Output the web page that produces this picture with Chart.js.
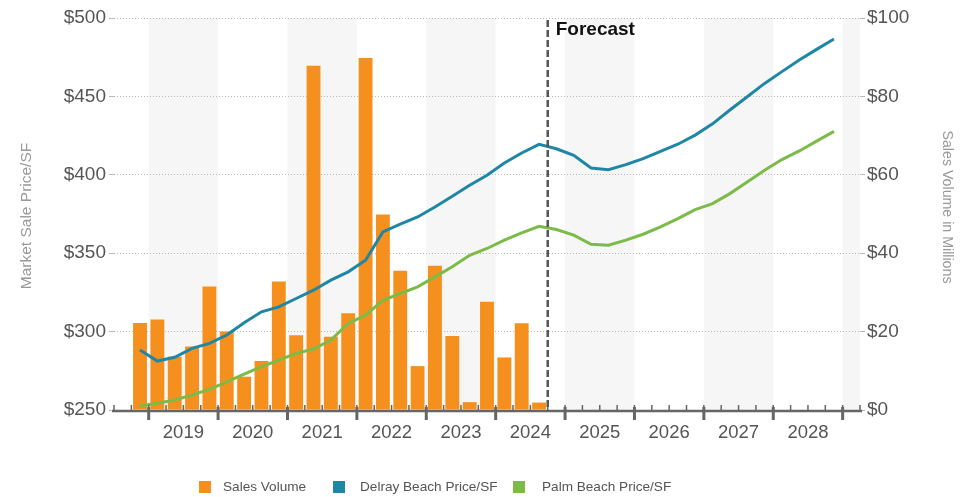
<!DOCTYPE html>
<html>
<head>
<meta charset="utf-8">
<script src="https://cdn.jsdelivr.net/npm/chart.js@4.4.0/dist/chart.umd.min.js"></script>
<style>
  html, body { margin: 0; padding: 0; background: #fff; }
</style>
</head>
<body>
<canvas id="salesChart" width="966" height="497"></canvas>
<script>
// --- DATA (quarterly, 2018 Q3 -> 2029 Q1) ---
const QUARTERS = [
  '2018 Q3', '2018 Q4',
  '2019 Q1', '2019 Q2', '2019 Q3', '2019 Q4',
  '2020 Q1', '2020 Q2', '2020 Q3', '2020 Q4',
  '2021 Q1', '2021 Q2', '2021 Q3', '2021 Q4',
  '2022 Q1', '2022 Q2', '2022 Q3', '2022 Q4',
  '2023 Q1', '2023 Q2', '2023 Q3', '2023 Q4',
  '2024 Q1', '2024 Q2', '2024 Q3', '2024 Q4',
  '2025 Q1', '2025 Q2', '2025 Q3', '2025 Q4',
  '2026 Q1', '2026 Q2', '2026 Q3', '2026 Q4',
  '2027 Q1', '2027 Q2', '2027 Q3', '2027 Q4',
  '2028 Q1', '2028 Q2', '2028 Q3', '2028 Q4',
  '2029 Q1'
];

const YEAR_LABELS = ['2019', '2020', '2021', '2022', '2023', '2024', '2025', '2026', '2027', '2028'];
const SHADED_YEARS = ['2019', '2021', '2023', '2025', '2027', '2029'];
const FORECAST_AFTER = '2024 Q3';

// sales volume, $ millions (2018 Q4 .. 2024 Q3)
const SALES_VOLUME = [
  null, 22.2,
  23.1, 13.6, 16.2, 31.5,
  20.0, 8.5, 12.5, 32.8,
  19.1, 87.8, 18.7, 24.7,
  89.8, 49.9, 35.5, 11.2,
  36.8, 18.9, 2.0, 27.6,
  13.4, 22.1, 1.9, null,
  null, null, null, null,
  null, null, null, null,
  null, null, null, null,
  null, null, null, null,
  null
];

// market sale price per SF
const DELRAY_PRICE = [
  null, 288.2,
  281.2, 283.6, 289.3, 292.5,
  297.8, 305.6, 312.6, 315.8,
  321.1, 326.4, 332.8, 338.1,
  345.5, 363.6, 368.5, 373.1,
  379.5, 386.3, 393.3, 399.7,
  407.5, 413.9, 419.4, 416.6,
  412.4, 404.3, 403.3, 406.5,
  410.3, 415.0, 419.5, 425.3,
  432.5, 441.3, 449.8, 458.3,
  465.8, 473.2, 480.0, 486.6,
  null
];

const PALM_PRICE = [
  null, 252.5,
  254.3, 256.4, 259.6, 263.2,
  268.0, 272.9, 277.6, 281.8,
  286.1, 288.9, 294.6, 305.2,
  310.5, 320.0, 324.3, 328.5,
  334.9, 341.3, 348.7, 353.0,
  358.3, 362.9, 367.2, 365.1,
  361.5, 355.7, 355.1, 358.3,
  362.1, 366.8, 372.1, 377.8,
  381.6, 388.0, 395.4, 402.9,
  409.7, 415.2, 421.5, 427.7,
  null
];

const THEME = {
  bar: '#f5901e', delray: '#1f87a5', palm: '#7cbb48',
  tick: '#555555', title: '#999999', grid: '#b8b8b8',
  axis: '#666666', band: '#f6f6f6', forecast: '#555555'
};

const FONT = "'Liberation Sans', Arial, sans-serif";

// --- HELPERS ---
function boundaryPx(x, i) {
  const w = x.getPixelForValue(1) - x.getPixelForValue(0);
  return x.getPixelForValue(0) - w / 2 + i * w;
}

// --- DECORATIONS (bands, x axis, forecast, titles, legend) ---
const decorPlugin = {
  id: 'decor',
  beforeDraw(chart) {
    const { ctx, chartArea: a, scales: { x } } = chart;
    ctx.save();
    ctx.fillStyle = THEME.band;
    SHADED_YEARS.forEach(y => {
      const start = QUARTERS.indexOf(y + ' Q1');
      const end = Math.min(start + 4, QUARTERS.length);
      const x0 = boundaryPx(x, start), x1 = boundaryPx(x, end);
      ctx.fillRect(x0, a.top, x1 - x0, a.bottom - a.top);
    });
    ctx.restore();
  },
  afterDraw(chart) {
    const { ctx, chartArea: a, scales: { x } } = chart;
    const base = a.bottom + 1;
    ctx.save();

    // minor ticks on every quarter
    ctx.strokeStyle = THEME.axis;
    ctx.lineWidth = 1.5;
    for (let i = 0; i <= QUARTERS.length; i++) {
      const px = boundaryPx(x, i);
      ctx.beginPath(); ctx.moveTo(px, base - 6); ctx.lineTo(px, base); ctx.stroke();
    }
    // axis line
    ctx.lineWidth = 2.5;
    ctx.beginPath(); ctx.moveTo(a.left - 2, base); ctx.lineTo(a.right + 2, base); ctx.stroke();

    // year ticks + labels
    ctx.font = '18.5px ' + FONT;
    ctx.fillStyle = THEME.tick;
    ctx.textAlign = 'center';
    ctx.textBaseline = 'middle';
    YEAR_LABELS.concat(['2029']).forEach((y, k) => {
      const i = QUARTERS.indexOf(y + ' Q1');
      const px = boundaryPx(x, i);
      ctx.lineWidth = 3;
      ctx.beginPath(); ctx.moveTo(px, base - 4); ctx.lineTo(px, base + 9); ctx.stroke();
      if (k < YEAR_LABELS.length) ctx.fillText(y, px + (boundaryPx(x, i + 4) - px) / 2, 433);
    });

    // forecast divider
    const fx = boundaryPx(x, QUARTERS.indexOf(FORECAST_AFTER) + 1);
    ctx.strokeStyle = THEME.forecast;
    ctx.lineWidth = 2.5;
    ctx.setLineDash([7, 3]);
    ctx.beginPath(); ctx.moveTo(fx, a.top + 2); ctx.lineTo(fx, base); ctx.stroke();
    ctx.setLineDash([]);
    ctx.fillStyle = '#111';
    ctx.font = 'bold 19px ' + FONT;
    ctx.textAlign = 'left';
    ctx.fillText('Forecast', fx + 8, 30);

    // axis titles
    ctx.fillStyle = THEME.title;
    ctx.textAlign = 'center';
    ctx.font = '15.5px ' + FONT;
    ctx.save();
    ctx.translate(27, 216); ctx.rotate(-Math.PI / 2);
    ctx.fillText('Market Sale Price/SF', 0, 0);
    ctx.restore();
    ctx.font = '14.2px ' + FONT;
    ctx.save();
    ctx.translate(947, 207); ctx.rotate(Math.PI / 2);
    ctx.fillText('Sales Volume in Millions', 0, 0);
    ctx.restore();

    // legend
    const boxX = [199, 333, 513], textX = [223, 360, 542];
    ctx.font = '13.6px ' + FONT;
    ctx.textAlign = 'left';
    chart.data.datasets.forEach((ds, i) => {
      ctx.fillStyle = ds.backgroundColor;
      ctx.fillRect(boxX[i], 481, 12, 12);
      ctx.fillStyle = THEME.tick;
      ctx.fillText(ds.label, textX[i], 487.5);
    });
    ctx.restore();
  }
};

// --- CHART ---
new Chart(document.getElementById('salesChart'), {
  type: 'bar',
  data: {
    labels: QUARTERS,
    datasets: [
      { type: 'bar', label: 'Sales Volume', data: SALES_VOLUME, yAxisID: 'yVol',
        backgroundColor: THEME.bar, barPercentage: 0.8, categoryPercentage: 1.0, order: 3 },
      { type: 'line', label: 'Delray Beach Price/SF', data: DELRAY_PRICE, yAxisID: 'yPrice',
        borderColor: THEME.delray, backgroundColor: THEME.delray, borderWidth: 3,
        pointRadius: 0, tension: 0, order: 1 },
      { type: 'line', label: 'Palm Beach Price/SF', data: PALM_PRICE, yAxisID: 'yPrice',
        borderColor: THEME.palm, backgroundColor: THEME.palm, borderWidth: 3,
        pointRadius: 0, tension: 0, order: 2 }
    ]
  },
  options: {
    responsive: false,
    animation: false,
    layout: { padding: { top: 18, bottom: 87, left: 0, right: 0 } },
    plugins: { legend: { display: false }, tooltip: { enabled: false } },
    scales: {
      x: { display: false, offset: true },
      yPrice: {
        position: 'left', min: 250, max: 500,
        afterFit: s => { s.width = 114; },
        ticks: { stepSize: 50, padding: 3, color: THEME.tick, font: { family: FONT, size: 19 },
                 callback: v => '$' + v },
        grid: { color: THEME.grid, lineWidth: 1, tickLength: 5 },
        border: { display: false, dash: [1, 2] }
      },
      yVol: {
        position: 'right', min: 0, max: 100,
        afterFit: s => { s.width = 106; },
        ticks: { stepSize: 20, padding: 2, color: THEME.tick, font: { family: FONT, size: 19 },
                 callback: v => '$' + v },
        grid: { drawOnChartArea: false, color: THEME.grid, tickLength: 5 },
        border: { display: false, dash: [1, 2] }
      }
    }
  },
  plugins: [decorPlugin]
});
</script>
</body>
</html>
